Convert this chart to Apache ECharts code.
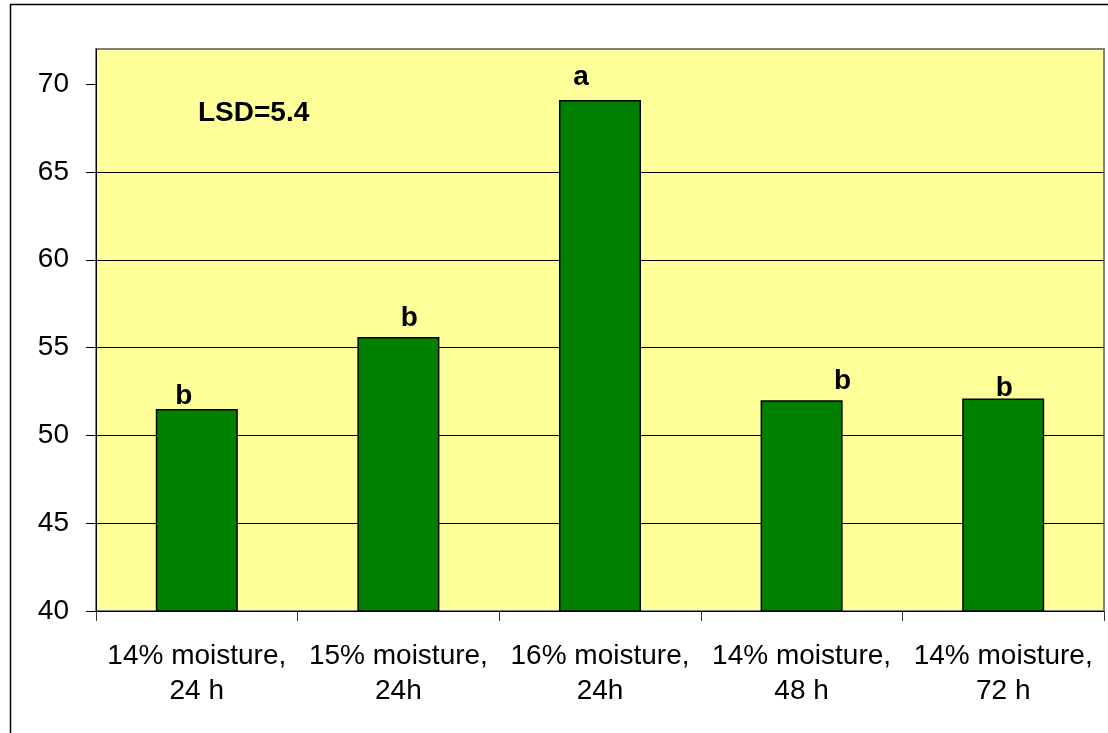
<!DOCTYPE html>
<html>
<head>
<meta charset="utf-8">
<script src="https://cdn.jsdelivr.net/npm/echarts@6/dist/echarts.min.js"></script>
<style>
  html, body { margin: 0; padding: 0; background: #ffffff; }
  #chart { width: 1108px; height: 733px; }
</style>
</head>
<body>
<div id="chart"></div>
<script>
// Treatments (moisture content and storage time)
const categories = [
  '14% moisture,\n24 h',
  '15% moisture,\n24h',
  '16% moisture,\n24h',
  '14% moisture,\n48 h',
  '14% moisture,\n72 h'
];
// Mean values per treatment
const values = [51.5, 55.6, 69.1, 52.0, 52.1];
// Significance groups (letters above each bar)
const groups = ['b', 'b', 'a', 'b', 'b'];
// Letter nudges relative to the default spot above each bar: [dx, dy]
const letterOffsets = [[-13, 1.5], [11, -4.5], [-19, -8.5], [41, -4.5], [1, 3.5]];
const lsdText = 'LSD=5.4';
const yTicks = [40, 45, 50, 55, 60, 65, 70];

const FONT = '"Liberation Sans", Arial, sans-serif';

const chart = echarts.init(document.getElementById('chart'), null, { renderer: 'canvas' });

const barData = values.map((v, i) => ({
  value: v,
  label: {
    show: true,
    position: 'top',
    distance: 0,
    offset: letterOffsets[i],
    formatter: groups[i],
    fontFamily: FONT,
    fontWeight: 'bold',
    fontSize: 28,
    color: '#000'
  }
}));

chart.setOption({
  animation: false,
  backgroundColor: '#ffffff',
  grid: {
    left: 96,
    top: 49,
    right: 4,
    bottom: 122,
    show: true,
    backgroundColor: '#FFFF99',
    borderColor: '#808080',
    borderWidth: 2
  },
  xAxis: {
    type: 'category',
    data: categories,
    axisLine: { lineStyle: { color: '#000', width: 1 } },
    axisTick: { show: true, length: 10, lineStyle: { color: '#333', width: 1 } },
    axisLabel: {
      margin: 28,
      fontFamily: FONT,
      fontSize: 28,
      lineHeight: 35,
      color: '#000',
      interval: 0
    }
  },
  yAxis: {
    type: 'value',
    min: 40,
    max: 72,
    interval: 5,
    axisLine: { show: true, lineStyle: { color: '#000', width: 1 } },
    axisTick: { show: true, length: 10, customValues: yTicks, lineStyle: { color: '#000' } },
    axisLabel: {
      customValues: yTicks,
      margin: 27,
      fontFamily: FONT,
      fontSize: 28,
      color: '#000'
    },
    splitLine: { show: true, showMaxLine: false, lineStyle: { color: '#000', width: 1 } }
  },
  series: [{
    type: 'bar',
    data: barData,
    barWidth: 82,
    itemStyle: { color: '#008000', borderColor: '#000', borderWidth: 1.5 }
  }],
  graphic: [
    {
      type: 'rect',
      silent: true,
      shape: { x: 10.5, y: 4.5, width: 1200, height: 1000 },
      style: { fill: 'none', stroke: '#000', lineWidth: 1.5 },
      z: 100
    },
    {
      type: 'text',
      left: 198,
      top: 99,
      style: {
        text: lsdText,
        font: 'bold 28px ' + FONT,
        fill: '#000'
      },
      z: 100
    }
  ]
});
</script>
</body>
</html>
